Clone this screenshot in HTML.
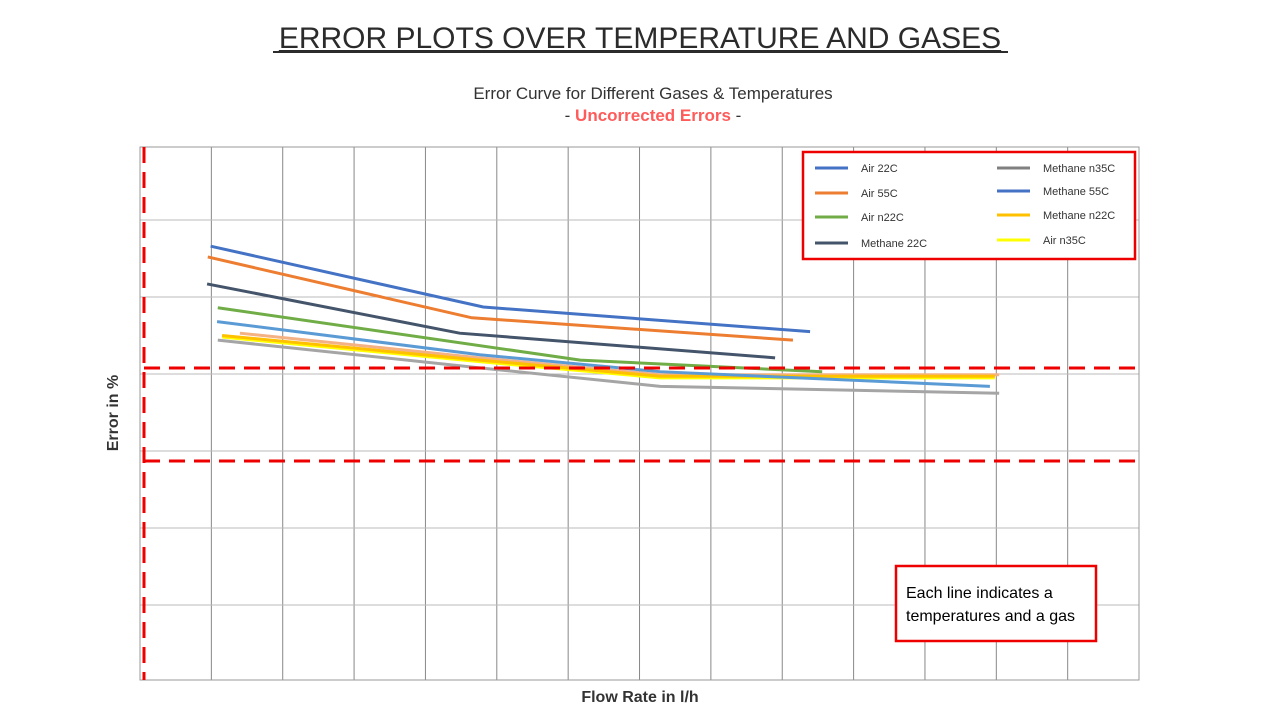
<!DOCTYPE html>
<html><head><meta charset="utf-8"><style>
body{margin:0;width:1280px;height:720px;background:#fff;overflow:hidden;font-family:"Liberation Sans",sans-serif}
</style></head><body>
<svg width="1280" height="720" xmlns="http://www.w3.org/2000/svg">
<text x="640" y="48" text-anchor="middle" font-size="30" fill="#2b2b2b" text-decoration="underline">ERROR PLOTS OVER TEMPERATURE AND GASES</text>
<line x1="273" y1="52" x2="1008" y2="52" stroke="#2b2b2b" stroke-width="2"/>
<text x="653" y="99" text-anchor="middle" font-size="17" fill="#333">Error Curve for Different Gases &amp; Temperatures</text>
<text x="653" y="121" text-anchor="middle" font-size="17" fill="#333">- <tspan fill="#ff5b5b" font-weight="bold">Uncorrected Errors</tspan> -</text>
<g id="grid"></g>
<rect x="140" y="147" width="999" height="533" fill="none" stroke="#999"/>
<g id="series"></g>
<line x1="144" y1="147" x2="144" y2="680" stroke="#e00" stroke-width="3" stroke-dasharray="16,9"/>
<line x1="144" y1="368" x2="1139" y2="368" stroke="#e00" stroke-width="3" stroke-dasharray="16,9"/>
<line x1="144" y1="461" x2="1139" y2="461" stroke="#e00" stroke-width="3" stroke-dasharray="16,9"/>
<text x="118" y="413" text-anchor="middle" font-size="16" font-weight="bold" fill="#333" transform="rotate(-90 118 413)">Error in %</text>
<text x="640" y="702" text-anchor="middle" font-size="16" font-weight="bold" fill="#333">Flow Rate in l/h</text>
<g>
<rect x="803" y="152" width="332" height="107" fill="#fff" stroke="#e00" stroke-width="2.5"/>
<g id="legend"></g>
</g>
<g>
<rect x="896" y="566" width="200" height="75" fill="#fff" stroke="#e00" stroke-width="2.5"/>
<text x="906" y="598" font-size="16" fill="#000">Each line indicates a</text>
<text x="906" y="621" font-size="16" fill="#000">temperatures and a gas</text>
</g>
</svg>
<script>
const names=["Air 22C","Air 55C","Air n22C","Methane 22C","Methane n35C","Methane 55C","Methane n22C","Air n35C","Air n55C"];
const colors=["#4472c4","#ed7d31","#70ad47","#44546a","#a5a5a5","#5b9bd5","#ffc000","#ffff00","#f4b183"];
const xAir22=[0.99,4.81,9.39], yAir22=[1.66,0.87,0.55];
const xAir55=[0.95,4.65,9.15], yAir55=[1.52,0.73,0.44];
const xAirN22=[1.09,6.17,9.56], yAirN22=[0.86,0.18,0.03];
const xMeth22=[0.94,4.48,8.9], yMeth22=[1.17,0.53,0.21];
const xMethN35=[1.09,4.76,7.29,12.04], yMethN35=[0.44,0.08,-0.16,-0.25];
const xMeth55=[1.08,4.76,7.29,11.91], yMeth55=[0.68,0.25,0.03,-0.16];
const xMethN22=[1.15,4.76,7.29,11.98], yMethN22=[0.5,0.18,-0.03,-0.03];
const xAirN35=[1.15,4.76,7.29,11.98], yAirN35=[0.48,0.16,-0.05,-0.05];
const xAirN55=[1.4,4.76,7.29,12.04], yAirN55=[0.53,0.21,-0.01,-0.01];
const xs=[xAir22,xAir55,xAirN22,xMeth22,xMethN35,xMeth55,xMethN22,xAirN35,xAirN55];
const ys=[yAir22,yAir55,yAirN22,yMeth22,yMethN35,yMeth55,yMethN22,yAirN35,yAirN55];
const xGrid=[1,2,3,4,5,6,7,8,9,10,11,12,13];
const yGrid=[2,1,0,-1,-2,-3];
const X=v=>140+v*71.36, Y=v=>374-v*77;
const NS="http://www.w3.org/2000/svg";
const grid=document.getElementById('grid');
xGrid.forEach(v=>{const l=document.createElementNS(NS,'line');


l.setAttribute('x1',X(v));l.setAttribute('x2',X(v));l.setAttribute('y1',147);l.setAttribute('y2',680);l.setAttribute('stroke','#888');l.setAttribute('stroke-width','1');grid.appendChild(l);});
yGrid.forEach(v=>{const l=document.createElementNS(NS,'line');


l.setAttribute('x1',140);l.setAttribute('x2',1139);l.setAttribute('y1',Y(v));l.setAttribute('y2',Y(v));l.setAttribute('stroke','#bbb');l.setAttribute('stroke-width','1');grid.appendChild(l);});
const order=[4,8,7,6,5,2,3,1,0];
const sg=document.getElementById('series');
order.forEach(i=>{const p=document.createElementNS(NS,'polyline');


p.setAttribute('points',xs[i].map((x,k)=>X(x)+','+Y(ys[i][k])).join(' '));
p.setAttribute('fill','none');p.setAttribute('stroke',colors[i]);p.setAttribute('stroke-width','3');sg.appendChild(p);});
const lg=document.getElementById('legend');
const lpos=[[815,168],[815,193],[815,217],[815,243],[997,168],[997,191],[997,215],[997,240]];
const lcol=["#4472c4","#ed7d31","#70ad47","#44546a","#808080","#4472c4","#ffc000","#ffff00"];
for(let i=0;i<8;i++){const [x,y]=lpos[i];
const g=document.createElementNS(NS,'g');


g.innerHTML=`<line x1="${x}" y1="${y}" x2="${x+33}" y2="${y}" stroke="${lcol[i]}" stroke-width="3"/><text x="${x+46}" y="${y+4}" font-size="11" fill="#333">${names[i]}</text>`;
lg.appendChild(g);}
</script>
</body></html>
